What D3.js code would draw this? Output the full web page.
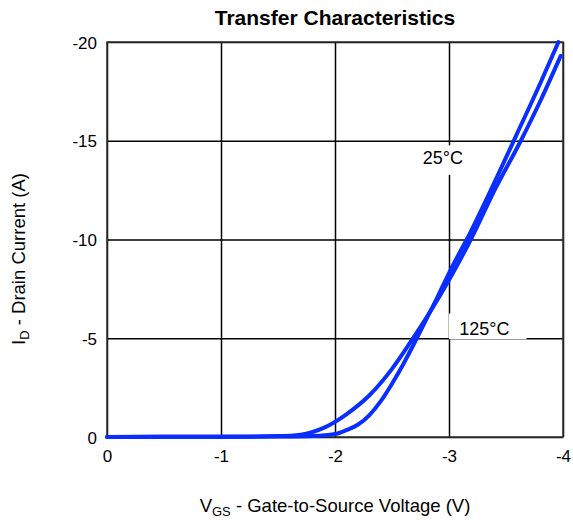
<!DOCTYPE html>
<meta charset="utf-8">
<style>
  body { margin: 0; background: #fff; }
  text { font-family: "Liberation Sans", Arial, sans-serif; fill: #000; }
</style>
<body>
<div id="vis"></div>
<script src="https://cdn.jsdelivr.net/npm/d3@7"></script>
<script>

const xTicks = [0, -1, -2, -3, -4];
const yTicks = [0, -5, -10, -15, -20];

// 25°C curve
const vgs25 = [0, -0.5, -1.0, -1.5, -1.8, -2.0, -2.1, -2.2, -2.3, -2.4, -2.5, -2.6, -2.7, -2.8, -2.9, -3.0, -3.2, -3.4, -3.6, -3.8, -3.96];
const id25  = [0, 0, 0, -0.02, -0.05, -0.15, -0.35, -0.62, -1.1, -1.8, -2.7, -3.7, -4.8, -5.95, -7.1, -8.3, -10.5, -12.9, -15.4, -17.9, -20.0];

// 125°C curve
const vgs125 = [0, -0.5, -1.0, -1.5, -1.7, -1.9, -2.1, -2.3, -2.5, -2.65, -2.83, -3.0, -3.2, -3.4, -3.63, -3.8, -3.98];
const id125  = [0, -0.02, -0.02, -0.05, -0.12, -0.46, -1.15, -2.1, -3.45, -4.7, -6.3, -7.95, -10.1, -12.5, -15.0, -17.0, -19.3];

const width = 573, height = 522;
const mLeft = 107, mRight = 563, mTop = 42, mBottom = 437;
const blue = '#0a2eff';

const svg = d3.select('#vis').append('svg')
    .attr('width', width)
    .attr('height', height);

const x = d3.scaleLinear().domain([0, -4]).range([mLeft, mRight]);
const y = d3.scaleLinear().domain([0, -20]).range([mBottom, mTop]);

// grid via axes
const xAxis = svg.append('g')
    .attr('transform', 'translate(0,' + mBottom + ')')
    .call(d3.axisBottom(x).tickValues(xTicks).tickSize(-(mBottom - mTop)).tickSizeOuter(0).tickPadding(13).tickFormat(d => String(d)));
const yAxis = svg.append('g')
    .attr('transform', 'translate(' + mLeft + ',0)')
    .call(d3.axisLeft(y).tickValues(yTicks).tickSize(-(mRight - mLeft)).tickSizeOuter(0).tickPadding(10).tickFormat(d => String(d)));

[xAxis, yAxis].forEach(a => {
  a.select('.domain').remove();
  a.selectAll('.tick line').style('stroke', '#000').style('stroke-width', 1.5);
  a.selectAll('.tick text')
    .style('font-family', '"Liberation Sans", Arial, sans-serif')
    .style('font-size', '17px')
    .style('fill', '#000');
});
yAxis.selectAll('.tick text').attr('dy', '0.36em');

svg.append('rect')
    .attr('x', mLeft).attr('y', mTop)
    .attr('width', mRight - mLeft).attr('height', mBottom - mTop)
    .style('fill', 'none')
    .style('stroke', '#333')
    .style('stroke-width', 1.5);

// curve labels with white background
const labels = [
  {t: '25°C', vx: -2.77, vy: -13.82, bx: -2.75, by: -13.27, bw: -0.45, bh: -1.5},
  {t: '125°C', vx: -3.09, vy: -5.16, bx: -3.0, by: -4.95, bw: -0.68, bh: -1.3}
];
labels.forEach(l => {
  svg.append('rect')
    .attr('x', x(l.bx))
    .attr('y', y(l.by + l.bh))
    .attr('width', x(l.bx + l.bw) - x(l.bx))
    .attr('height', y(l.by) - y(l.by + l.bh))
    .style('fill', '#fff');
  svg.append('text')
    .attr('x', x(l.vx))
    .attr('y', y(l.vy))
    .style('font-size', '18px')
    .text(l.t);
});

const line = d3.line()
    .x(d => x(d[0]))
    .y(d => y(d[1]))
    .curve(d3.curveMonotoneX);

[[vgs25, id25], [vgs125, id125]].forEach(s => {
  svg.append('path')
    .datum(s[0].map((v, i) => [v, s[1][i]]))
    .attr('d', line)
    .style('fill', 'none')
    .style('stroke', blue)
    .style('stroke-width', 4)
    .style('stroke-linecap', 'round');
});

svg.append('text')
    .attr('x', (mLeft + mRight) / 2)
    .attr('y', 25)
    .style('font-size', '21px')
    .style('font-weight', 'bold')
    .style('text-anchor', 'middle')
    .text('Transfer Characteristics');

const xt = svg.append('text')
    .attr('x', (mLeft + mRight) / 2)
    .attr('y', 512)
    .style('font-size', '18.5px')
    .style('text-anchor', 'middle');
xt.append('tspan').text('V');
xt.append('tspan').attr('dy', 4).style('font-size', '13px').text('GS');
xt.append('tspan').attr('dy', -4).text(' - Gate-to-Source Voltage (V)');

const yt = svg.append('text')
    .attr('transform', 'translate(25,259) rotate(-90)')
    .style('font-size', '18.5px')
    .style('text-anchor', 'middle');
yt.append('tspan').text('I');
yt.append('tspan').attr('dy', 4).style('font-size', '13px').text('D');
yt.append('tspan').attr('dy', -4).text(' - Drain Current (A)');

</script>
</body>
